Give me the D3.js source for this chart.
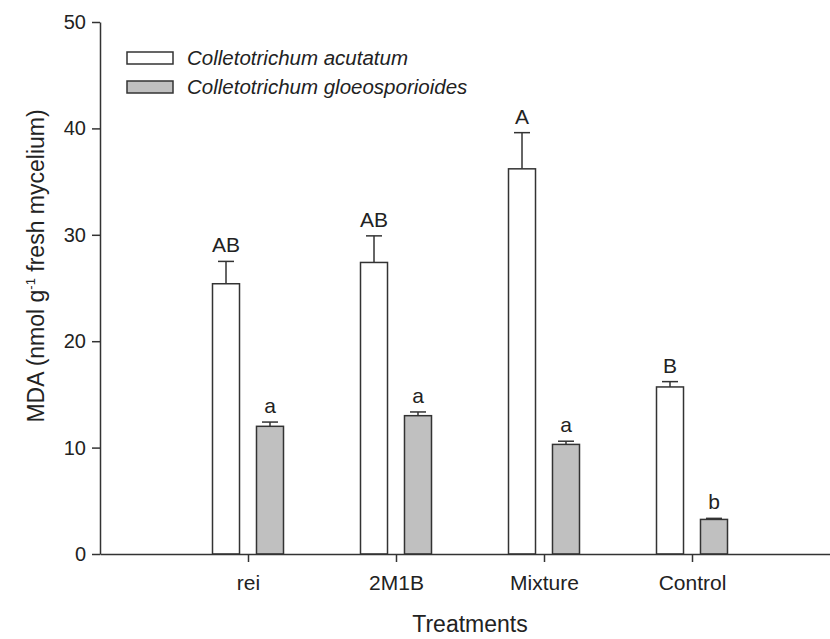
<!DOCTYPE html>
<html>
<head>
<meta charset="utf-8">
<script src="https://cdn.jsdelivr.net/npm/d3@7"></script>
<style>
  body { margin: 0; background: #fff; }
  svg { font-family: "Liberation Sans", Arial, sans-serif; }
  .axis path, .axis line { stroke: #333; stroke-width: 1.5; }
  .axis text { fill: #222; }
</style>
</head>
<body>
<svg id="chart"></svg>
<script>
// data
const categories = ['rei', '2M1B', 'Mixture', 'Control'];
const series = ['Colletotrichum acutatum', 'Colletotrichum gloeosporioides'];
const acutatum = [25.4, 27.4, 36.2, 15.7];
const acutatumErr = [2.1, 2.5, 3.4, 0.5];
const acutatumLetters = ['AB', 'AB', 'A', 'B'];
const gloeo = [12.0, 13.0, 10.3, 3.25];
const gloeoErr = [0.4, 0.35, 0.3, 0.1];
const gloeoLetters = ['a', 'a', 'a', 'b'];
const yTicks = [0, 10, 20, 30, 40, 50];

const width = 830, height = 639;
const margin = {top: 22, right: 0, bottom: 85, left: 100};

const svg = d3.select('#chart')
    .attr('width', width)
    .attr('height', height);

// x: group centers sit at 1..4
const x = d3.scaleLinear()
    .domain([0, 5])
    .range([margin.left, margin.left + 740]);

const y = d3.scaleLinear()
    .domain([0, 50])
    .range([height - margin.bottom, margin.top]);

const sub = d3.scaleBand()
    .domain(series)
    .range([-35.5, 35.5])
    .paddingInner(0.386);

const color = d3.scaleOrdinal()
    .domain(series)
    .range(['#ffffff', '#c0c0c0']);

const rows = categories.map((c, i) => ({
  cat: c, idx: i + 1,
  vals: [
    {key: series[0], v: acutatum[i], e: acutatumErr[i], lab: acutatumLetters[i]},
    {key: series[1], v: gloeo[i], e: gloeoErr[i], lab: gloeoLetters[i]}
  ]
}));

// axes
const xAxis = d3.axisBottom(x)
    .tickValues([1, 2, 3, 4])
    .tickFormat(d => categories[d - 1])
    .tickSize(8)
    .tickSizeOuter(0)
    .tickPadding(13);

const yAxis = d3.axisLeft(y)
    .tickValues(yTicks)
    .tickSize(8)
    .tickSizeOuter(0)
    .tickPadding(6);

// bars
const groups = svg.append('g')
  .selectAll('g')
  .data(rows)
  .enter().append('g')
    .attr('transform', d => `translate(${x(d.idx)},0)`);

const cells = groups.selectAll('g.cell')
  .data(d => d.vals)
  .enter().append('g')
    .attr('class', 'cell');

// error bars (upper only)
cells.append('line')
    .attr('x1', d => sub(d.key) + sub.bandwidth() / 2)
    .attr('x2', d => sub(d.key) + sub.bandwidth() / 2)
    .attr('y1', d => y(d.v))
    .attr('y2', d => y(d.v + d.e))
    .attr('stroke', '#333')
    .attr('stroke-width', 1.5);

cells.append('line')
    .attr('x1', d => sub(d.key) + sub.bandwidth() / 2 - 8)
    .attr('x2', d => sub(d.key) + sub.bandwidth() / 2 + 8)
    .attr('y1', d => y(d.v + d.e))
    .attr('y2', d => y(d.v + d.e))
    .attr('stroke', '#333')
    .attr('stroke-width', 1.5);

cells.append('rect')
    .attr('x', d => sub(d.key))
    .attr('y', d => y(d.v))
    .attr('width', sub.bandwidth())
    .attr('height', d => y(0) - y(d.v))
    .attr('fill', d => color(d.key))
    .attr('stroke', '#333')
    .attr('stroke-width', 1.5);

cells.append('text')
    .attr('x', d => sub(d.key) + sub.bandwidth() / 2)
    .attr('y', d => y(d.v + d.e) - 9)
    .attr('text-anchor', 'middle')
    .style('font-size', '21px')
    .attr('fill', '#222')
    .text(d => d.lab);

svg.append('g')
    .attr('class', 'axis x-axis')
    .attr('transform', `translate(0,${y(0)})`)
    .call(xAxis)
    .selectAll('text')
    .style('font-size', '21px');

svg.append('g')
    .attr('class', 'axis y-axis')
    .attr('transform', `translate(${margin.left},0)`)
    .call(yAxis)
    .selectAll('text')
    .style('font-size', '20px');

// axis titles
svg.append('text')
    .attr('x', x(2.5))
    .attr('y', 632)
    .attr('text-anchor', 'middle')
    .style('font-size', '23px')
    .attr('fill', '#222')
    .text('Treatments');

const yTitle = svg.append('text')
    .attr('transform', `translate(44,266) rotate(-90)`)
    .attr('text-anchor', 'middle')
    .style('font-size', '23px')
    .attr('fill', '#222');
yTitle.append('tspan').text('MDA (nmol g');
yTitle.append('tspan').attr('dy', -9).style('font-size', '13px').text('-1');
yTitle.append('tspan').attr('dy', 9).text(' fresh mycelium)');

// legend
const legend = svg.append('g')
    .selectAll('g')
    .data(series)
    .enter().append('g')
    .attr('transform', (d, i) => `translate(127,${58 + i * 29})`);

legend.append('rect')
    .attr('x', 0)
    .attr('y', -6)
    .attr('width', 46)
    .attr('height', 12)
    .attr('fill', d => color(d))
    .attr('stroke', '#333')
    .attr('stroke-width', 1.5);

legend.append('text')
    .attr('x', 60)
    .attr('y', 7)
    .style('font-size', '20.5px')
    .style('font-style', 'italic')
    .attr('fill', '#222')
    .text(d => d);
</script>
</body>
</html>
